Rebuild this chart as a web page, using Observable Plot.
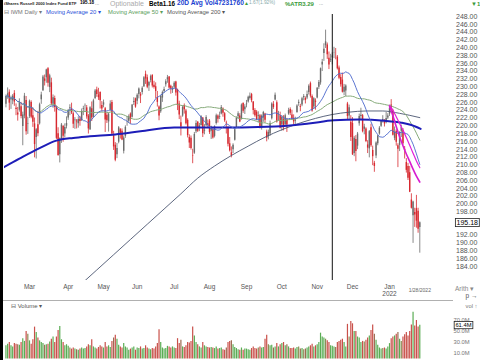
<!DOCTYPE html>
<html><head><meta charset="utf-8">
<script src="https://cdn.jsdelivr.net/npm/d3@7"></script>
<script src="https://cdn.jsdelivr.net/npm/@observablehq/plot@0.6"></script>
<style>
html,body{margin:0;padding:0;background:#fff;}
#root{position:relative;width:480px;height:360px;overflow:hidden;background:#fff;font-family:"Liberation Sans",Arial,sans-serif;}
.t{position:absolute;white-space:nowrap;line-height:1;}
</style></head>
<body><div id="root"></div>
<script>
// ---------- data (IWM daily, 2021-02-08 .. 2022-01-28) ----------
const firstDay = "2021-02-08", lastDay = "2022-01-28";
const holidays = ["2021-02-15","2021-04-02","2021-05-31","2021-07-05","2021-09-06","2021-11-25","2021-12-24","2022-01-17"];

const open = [
// Feb
225.5,227.4,228.6,226.6,226.4,228.3,224.5,222.8,224.0,224.9,219.8,222.5,226.5,220.5,
// Mar
222.4,226.0,222.6,220.5,217.0,220.3,220.5,226.7,229.0,231.4,232.3,234.6,229.8,231.0,225.5,227.0,224.8,218.0,212.6,216.6,219.8,217.9,219.9,
// Apr
222.0,224.6,224.2,223.1,221.3,221.0,220.5,221.7,221.4,224.2,225.0,224.6,222.5,219.0,224.4,222.2,227.0,229.2,227.9,228.5,225.2,
// May
225.3,224.4,222.7,221.0,224.0,226.0,214.6,215.0,212.6,215.8,219.0,218.6,213.5,217.3,220.4,221.2,223.0,222.2,226.0,226.9,
// Jun
226.3,228.0,228.0,228.5,230.0,233.2,232.3,230.2,231.6,232.9,230.4,230.0,227.2,224.8,223.6,227.1,228.8,230.5,231.8,232.5,230.1,229.1,
// Jul
229.9,231.2,229.2,225.6,219.7,222.5,225.2,223.8,221.4,217.0,216.8,212.4,213.0,218.5,220.9,219.4,220.1,222.0,218.6,220.0,220.5,
// Aug
221.2,218.6,219.0,217.3,220.6,222.5,222.2,223.0,224.3,223.1,220.5,219.4,215.4,212.3,213.9,216.3,219.6,222.3,222.5,221.6,225.7,224.1,
// Sep
225.4,226.1,227.0,228.0,226.1,223.9,223.5,222.6,222.6,219.8,222.0,223.0,218.4,218.3,217.9,221.8,224.7,226.6,225.9,221.9,222.6,
// Oct
220.2,221.6,220.3,220.2,223.0,224.2,222.8,221.9,221.2,223.4,226.0,224.7,225.3,227.5,226.5,227.1,228.5,230.8,227.5,224.8,226.3,
// Nov
227.1,229.9,231.0,235.6,238.5,241.5,240.7,237.3,236.8,237.4,238.7,238.5,237.6,234.8,232.4,231.7,228.6,228.9,225.6,224.6,220.9,
// Dec
220.6,212.9,216.5,214.8,220.5,222.4,222.6,219.7,219.2,215.1,214.1,219.5,213.7,209.6,212.3,215.4,217.9,219.9,221.6,221.1,220.8,222.0,
// Jan
223.0,225.3,223.8,216.8,218.6,214.0,215.0,219.6,218.8,214.0,210.6,209.6,208.0,201.0,197.0,197.8,198.8,198.1,194.0];

const high = [
227.9,229.7,229.2,227.6,228.0,229.0,225.6,224.7,226.9,226.0,223.5,228.3,227.5,222.2,
226.6,226.4,224.6,222.0,219.3,223.7,225.8,228.6,232.9,233.0,234.5,234.9,233.2,232.2,227.9,227.6,225.0,219.5,216.9,220.6,220.1,220.5,222.3,
224.2,225.4,225.8,223.5,222.1,221.6,222.3,222.4,224.3,225.0,225.6,225.2,222.9,224.9,226.1,226.8,229.3,229.9,229.6,228.7,226.2,
226.6,224.7,223.3,223.3,226.4,226.5,218.6,215.7,215.5,219.8,219.3,219.2,217.4,220.0,222.4,222.8,223.3,225.4,227.2,227.1,
228.2,229.7,228.5,230.0,232.6,234.0,233.0,231.4,233.0,233.1,231.4,231.0,228.8,225.1,227.8,228.9,229.9,231.8,232.9,232.6,230.4,230.0,
231.3,231.4,229.4,226.3,222.5,225.1,225.6,224.2,221.8,217.7,217.4,214.0,218.3,221.3,221.1,220.6,222.6,222.1,220.3,222.6,221.5,
221.6,219.9,219.4,220.0,223.0,222.8,223.5,225.2,224.6,223.4,221.2,219.8,217.0,214.6,215.4,219.3,222.3,223.6,223.1,225.6,225.9,225.4,
226.5,227.6,228.4,228.3,226.2,224.4,223.9,223.6,222.9,222.8,223.7,223.2,218.9,218.9,221.2,225.9,226.2,228.4,226.4,223.7,223.5,
222.6,222.6,223.0,221.9,224.5,224.6,224.0,222.8,222.2,225.4,226.6,225.5,227.3,228.0,227.4,228.9,230.5,231.2,227.9,227.2,226.9,
229.8,231.6,234.8,237.0,241.0,244.5,241.2,238.9,238.3,238.7,240.1,239.8,238.0,235.3,233.1,233.5,230.6,230.5,226.0,225.3,222.6,
222.1,217.3,217.5,218.3,223.0,224.5,222.9,220.4,219.5,216.2,218.8,220.4,214.8,210.9,215.9,217.6,219.8,221.4,222.6,221.6,223.4,223.1,
224.9,226.7,224.2,219.7,219.0,215.4,218.5,220.2,219.3,214.7,211.6,210.4,209.6,202.6,200.7,198.9,202.2,198.9,195.4];

const low = [
224.6,226.8,223.9,224.2,225.4,225.0,222.6,221.2,223.5,221.8,214.9,221.8,217.6,217.8,
221.9,221.8,219.6,211.8,211.5,217.2,220.2,225.5,228.8,230.2,230.9,229.9,228.5,225.2,224.5,223.5,216.5,212.2,210.5,215.5,215.8,216.9,219.2,
221.4,222.6,222.9,219.3,219.1,219.2,219.4,219.9,221.1,222.6,223.6,221.7,217.9,218.8,221.1,222.0,226.7,227.3,226.5,224.3,223.7,
224.6,218.3,220.6,218.4,223.6,217.7,213.7,210.8,211.6,215.4,216.6,216.2,212.8,216.8,219.9,220.6,220.4,222.0,225.2,224.5,
225.4,226.9,225.7,227.9,229.8,230.6,229.5,228.8,231.0,229.7,229.4,226.9,224.8,221.3,223.2,226.0,228.3,229.9,230.9,229.4,228.1,228.3,
229.4,227.6,223.9,221.6,217.4,222.2,223.0,220.2,216.9,214.2,213.8,210.3,212.7,218.0,218.3,218.5,219.9,217.0,217.7,219.8,219.4,
217.8,216.5,216.6,216.9,220.2,220.7,221.6,222.8,222.2,220.9,217.9,214.6,213.3,211.8,212.9,216.1,219.4,221.6,220.8,221.5,223.2,222.9,
224.6,225.8,226.6,225.9,222.8,222.2,221.3,220.8,219.2,218.9,220.9,220.7,215.9,216.4,217.3,221.5,224.2,226.4,220.7,221.2,219.2,
218.6,218.7,219.9,218.3,222.7,222.6,221.5,220.2,220.0,223.2,225.0,223.6,224.9,226.4,225.6,226.7,227.9,227.1,223.5,224.2,224.0,
226.9,229.3,230.4,233.9,236.5,239.8,237.0,234.4,236.2,235.6,237.2,236.9,234.3,231.8,229.9,228.4,227.7,227.5,221.6,221.6,216.0,
212.4,212.1,210.8,213.9,219.9,221.4,218.2,217.7,215.7,212.9,211.8,214.5,209.8,208.1,211.6,214.9,217.6,219.6,220.7,219.7,220.5,221.6,
222.4,223.1,217.4,216.2,214.8,209.3,213.4,217.0,215.0,211.5,207.9,206.0,202.9,198.7,189.9,194.0,193.8,192.5,187.4];

const close = [
227.5,228.2,225.8,226.9,227.6,226.1,224.2,223.3,225.9,222.4,222.8,227.6,218.5,220.4,
226.3,222.2,220.9,215.2,219.0,218.0,225.4,227.9,232.5,232.0,234.3,230.9,232.8,225.6,227.2,224.7,216.8,212.4,216.7,220.2,217.3,219.6,220.6,
223.6,224.4,223.3,220.4,221.5,221.2,221.6,221.1,223.7,224.4,225.1,222.3,219.2,224.6,222.0,226.4,228.9,228.0,227.2,226.4,224.3,
225.9,221.5,221.3,223.0,225.6,217.9,217.4,211.2,214.2,219.5,217.8,216.4,216.9,219.6,220.4,222.3,221.6,225.3,226.2,224.8,
227.8,229.4,227.6,229.6,232.3,232.0,229.9,231.1,232.6,230.2,229.8,228.8,226.0,222.5,227.5,228.5,229.3,231.3,232.3,229.7,229.4,229.4,
230.9,228.4,225.2,222.8,220.8,224.7,224.1,220.5,217.5,215.6,214.2,212.3,217.8,220.6,218.6,220.0,222.3,218.0,218.9,222.1,220.1,
218.3,219.7,216.9,219.8,222.6,221.7,222.4,224.7,223.2,221.3,220.7,215.3,213.6,213.1,215.0,219.0,221.9,223.1,221.0,225.3,223.7,224.8,
225.6,227.3,227.6,226.4,223.9,222.6,221.6,222.4,219.6,222.5,223.4,221.4,216.8,217.2,220.6,225.6,225.5,227.8,221.0,221.9,219.4,
222.1,219.9,222.6,221.4,223.9,223.2,221.7,221.0,221.5,225.1,225.7,224.9,226.9,227.2,227.0,228.0,230.1,227.6,223.8,226.9,226.0,
229.6,231.1,234.6,236.3,239.6,240.5,238.2,235.6,237.0,237.9,238.8,238.5,234.6,232.2,230.5,228.6,229.9,230.2,222.4,222.5,217.0,
212.6,216.8,213.4,217.9,222.4,222.7,218.5,219.1,216.0,214.3,218.5,214.9,212.1,210.4,215.6,217.4,219.4,221.2,221.3,220.5,221.9,222.5,
224.5,224.1,217.6,218.3,215.8,214.9,218.3,218.6,215.4,213.6,208.6,206.6,203.0,198.9,200.5,197.2,195.6,193.51,195.18];

// volume, millions of shares
const volume = [
24,27,30,24,22,28,27,26,25,30,37,32,50,45,
33,27,35,58,48,38,33,30,28,25,26,27,31,36,40,30,40,52,59,35,30,24,26,
23,20,18,20,18,17,16,18,20,18,19,22,26,24,35,22,20,18,21,24,22,
20,30,22,24,21,32,38,43,36,25,22,20,28,22,20,16,18,20,22,16,
20,19,22,18,19,24,20,18,17,19,18,22,28,53,30,20,18,19,23,22,20,22,
20,19,37,28,34,22,21,24,30,29,32,58,42,30,26,22,20,30,24,22,21,
20,21,20,19,22,18,19,20,17,16,20,30,32,33,26,21,19,17,16,20,16,18,
18,17,16,19,22,19,18,20,22,20,21,36,43,26,24,25,20,22,28,22,26,
28,30,24,26,22,19,19,20,18,21,22,18,19,17,18,20,22,24,27,22,24,
26,30,47,40,38,36,33,30,24,23,22,21,30,32,34,36,30,22,63,40,68,
64,50,50,40,38,30,32,31,34,38,42,52,62,45,34,25,20,18,19,20,18,22,
28,37,40,42,45,48,36,32,40,44,48,42,50,62,85,60,70,58,61.4];

// overlay lines (trading-day position, value)
const ma200Pos = [34,44,54,64,74,84,94,104,114,124,134,144,154,164,174,184,194,204,214,224,234,246];
const ma200Val = [175.3,179.2,183.1,187.0,190.9,194.8,198.7,202.6,206.6,209.7,212.4,214.8,217.1,219.0,220.6,221.9,222.9,223.5,223.8,223.8,223.2,222.1];
const trendPos = [-3,8,20,30,40,50,65,80,100,120,140,160,180,195,210,225,235,241,246.5];
const trendVal = [209.0,211.6,214.3,216.2,216.9,217.3,217.8,218.6,219.6,219.6,219.6,219.8,220.6,221.4,221.6,221.3,220.8,220.2,219.2];
const bandPos  = [228,230,232,234,236,238,240,242,244,246];
const bandLow  = [225.0,222.6,219.8,217.2,214.9,212.8,210.9,208.9,207.1,205.6];
const bandHigh = [225.3,224.0,222.3,220.6,218.9,217.0,215.0,213.0,211.0,209.3];

const markerDate = "2021-11-12";
const monthTickDates  = ["2021-03-01","2021-04-01","2021-05-03","2021-06-01","2021-07-01","2021-08-02","2021-09-01","2021-10-01","2021-11-01","2021-12-01","2022-01-03"];
const monthTickLabels = ["Mar","Apr","May","Jun","Jul","Aug","Sep","Oct","Nov","Dec","Jan\n2022"];
const priceTicks = [184,186,188,190,192,198,200,202,204,206,208,210,212,214,216,218,220,222,224,226,228,230,232,234,236,238,240,242,244,246,248];
const volTicks = [10,30,50,70];

// ---------- build ----------
const fmt = d3.utcFormat("%Y-%m-%d");
const dates = d3.utcDays(new Date(firstDay), d3.utcDay.offset(new Date(lastDay), 1))
  .filter(d => d.getUTCDay() !== 0 && d.getUTCDay() !== 6)
  .map(fmt).filter(s => !holidays.includes(s));
if (dates.length !== close.length) console.error("length mismatch", dates.length, close.length);

const rows = dates.map((date, p) => {
  const prev = p ? close[p - 1] : open[p];
  const c = close[p], o = open[p];
  return {p, date, open: o, high: high[p], low: low[p], close: c, vol: volume[p],
    down: c < prev,
    vcol: c >= prev ? (c >= o ? "#5aad54" : "#8e8c54") : (c < o ? "#c9504a" : "#9c6a50")};
});
const ma200 = ma200Pos.map((p, i) => ({p, v: ma200Val[i]}));
const trend = trendPos.map((p, i) => ({p, v: trendVal[i]}));
const bandA = bandPos.map((p, i) => ({p, v: bandLow[i]}));
const bandB = bandPos.map((p, i) => ({p, v: bandHigh[i]}));
const monthPos = monthTickDates.map(d => dates.indexOf(d));
const labelByPos = new Map(monthPos.map((p, i) => [p, monthTickLabels[i]]));
const last = rows.length - 1;
const lastLabel = d3.utcFormat("%-m/%-d/%Y")(new Date(lastDay));

const xDomain = [-0.86, 259.5];
const font = "Liberation Sans, Arial, sans-serif";
const root = document.getElementById("root");

const price = Plot.plot({
  width: 480, height: 286,
  marginLeft: 4, marginRight: 38, marginTop: 0, marginBottom: 20,
  style: {background: "transparent", fontFamily: font},
  x: {domain: xDomain, axis: null},
  y: {domain: [180.4, 248.5], axis: null},
  marks: [
    Plot.axisY(priceTicks, {anchor: "right", tickSize: 0, tickPadding: 13.5, tickFormat: d => d.toFixed(2), fontSize: 7, fill: "#555"}),
    Plot.axisX(monthPos, {anchor: "bottom", tickSize: 0, tickPadding: 4, tickFormat: d => labelByPos.get(d), fontSize: 6.5, fill: "#555"}),
    Plot.text([last], {x: d => d, frameAnchor: "bottom", dy: 11.5, text: () => lastLabel, fontSize: 5, fill: "#666"}),
    Plot.ruleX(rows, {x: "p", y1: "low", y2: "high", stroke: d => d.down ? "#d7282f" : "#6b6b6b", strokeWidth: 0.8}),
    Plot.ruleX(rows, {x: "p", y1: "open", y2: "close", stroke: d => d.down ? "#d7282f" : "#6b6b6b", strokeWidth: 1.4}),
    Plot.line(ma200, {x: "p", y: "v", curve: "monotone-x", stroke: "#4b5670", strokeWidth: 0.9, clip: true}),
    Plot.line(rows, Plot.windowY({k: 50, anchor: "end"}, {x: "p", y: "close", stroke: "#86ab7a", strokeWidth: 1, clip: true})),
    Plot.line(trend, {x: "p", y: "v", curve: "monotone-x", stroke: "#1d1db8", strokeWidth: 2, clip: true}),
    Plot.line(rows, Plot.windowY({k: 20, anchor: "end"}, {x: "p", y: "close", stroke: "#4a66cc", strokeWidth: 0.9, clip: true})),
    Plot.line(bandB, {x: "p", y: "v", curve: "monotone-x", stroke: "#e020d8", strokeWidth: 1.2}),
    Plot.line(bandA, {x: "p", y: "v", curve: "monotone-x", stroke: "#d81ccf", strokeWidth: 1.6}),
    Plot.ruleX([dates.indexOf(markerDate)], {x: d => d, stroke: "#111", strokeWidth: 1}),
    Plot.text([close[last]], {y: d => d, frameAnchor: "right", dx: 35.5, textAnchor: "end", text: d => d.toFixed(2), fontSize: 7, fill: "#000"})
  ]
});

const vol = Plot.plot({
  width: 480, height: 60,
  marginLeft: 4, marginRight: 38, marginTop: 0, marginBottom: 1.5,
  style: {background: "transparent", fontFamily: font},
  x: {domain: xDomain, axis: null},
  y: {domain: [0, 106.4], axis: null},
  marks: [
    Plot.ruleX(rows, {x: "p", y1: 0, y2: "vol", stroke: "vcol", strokeWidth: 1.2}),
    Plot.axisY(volTicks, {anchor: "right", tickSize: 0, tickPadding: 11, tickFormat: d => d.toFixed(1) + "M", fontSize: 5.8, fill: "#777"}),
    Plot.text([volume[last]], {y: d => d, frameAnchor: "right", dx: 29, textAnchor: "end", text: d => d.toFixed(1) + "M", fontSize: 5.8, fill: "#000"})
  ]
});

function place(el, top) {
  const d = document.createElement("div");
  d.style.cssText = `position:absolute;left:0;top:${top}px;width:480px;`;
  d.appendChild(el);
  root.appendChild(d);
}
place(price, 14);
place(vol, 300);

function boxText(svg, str) {
  for (const t of svg.querySelectorAll("text")) {
    if (t.textContent === str) {
      const b = t.getBBox();
      const r = document.createElementNS("http://www.w3.org/2000/svg", "rect");
      r.setAttribute("x", b.x - 1.2); r.setAttribute("y", b.y - 0.6);
      r.setAttribute("width", b.width + 2.4); r.setAttribute("height", b.height + 1.2);
      r.setAttribute("fill", "#fff"); r.setAttribute("stroke", "#222"); r.setAttribute("stroke-width", "0.8");
      if (t.getAttribute("transform")) r.setAttribute("transform", t.getAttribute("transform"));
      t.parentNode.insertBefore(r, t);
    }
  }
}
boxText(price, close[last].toFixed(2));
boxText(vol, volume[last].toFixed(1) + "M");

// ---------- header / chrome text ----------
function txt(left, cy, size, color, text, weight) {
  const s = document.createElement("div");
  s.className = "t";
  s.style.cssText += `left:${left}px;top:${cy - size * 0.55}px;font-size:${size}px;color:${color};font-weight:${weight || "normal"};`;
  s.textContent = text;
  root.appendChild(s);
}
txt(4, 4, 4.1, "#222", "iShares Russell 2000 Index Fund ETF", "bold");
txt(80, 4, 4.6, "#000", "195.18", "bold");
txt(95, 4, 5, "#777", "...");
txt(110, 4, 7, "#aaa", "Optionable");
txt(149, 4, 6.3, "#000", "Beta1.16", "bold");
txt(177, 4, 6.6, "#1a3fd0", "20D Avg Vol47231760", "bold");
txt(244, 4, 5, "#3a9a3a", "▲");
txt(249, 4, 4.8, "#8aa", "1.67(1.92%)");
txt(285, 4, 6, "#3a9a3a", "%ATR3.29", "bold");
txt(319, 4, 5, "#777", "...");
txt(471, 4, 6, "#3a9a3a", "▼1", "bold");
txt(4, 13.5, 5.9, "#777", "⊟ IWM Daily ▾");
txt(46, 13.5, 5.9, "#2a4fd8", "Moving Average 20 ▾");
txt(108, 13.5, 5.9, "#5a9e5a", "Moving Average 50 ▾");
txt(167, 13.5, 5.9, "#555", "Moving Average 200 ▾");
txt(455, 290, 6.5, "#888", "Arith ▾");
txt(11, 306.5, 6, "#555", "⊟ Volume ▾");

const sep = document.createElement("div");
sep.style.cssText = "position:absolute;left:0;top:299.5px;width:453px;height:1px;background:#b0b0b0;";
root.appendChild(sep);
const strip = document.createElement("div");
strip.style.cssText = "position:absolute;left:0;top:0;width:3px;height:360px;background:#000;z-index:10;";
root.appendChild(strip);
</script>
</body></html>
